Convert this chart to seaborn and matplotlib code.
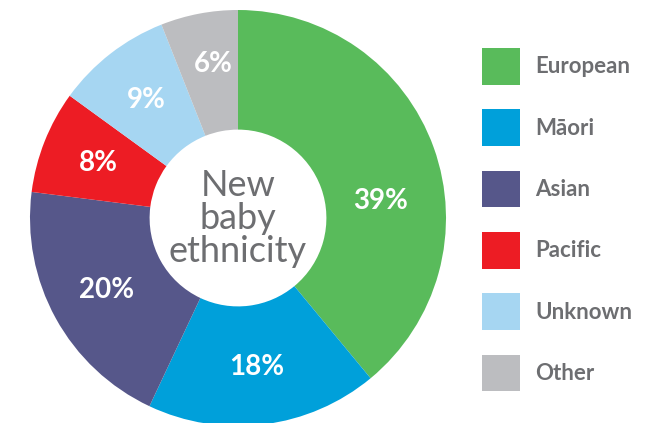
import matplotlib
matplotlib.use("Agg")
import matplotlib.pyplot as plt
import seaborn as sns
import numpy as np

categories = ["European", "Māori", "Asian", "Pacific", "Unknown", "Other"]
values = [39, 18, 20, 8, 9, 6]
colors = ["#59BB5B", "#00A0DA", "#56578A", "#ED1C24", "#A6D6F2", "#BCBDC0"]
center_title = "New\nbaby\nethnicity"

sns.set_theme(style="white")
plt.rcParams["font.family"] = ["Lato", "DejaVu Sans"]

W, H = 666, 423
fig = plt.figure(figsize=(W / 100, H / 100), dpi=100)
fig.patch.set_facecolor("white")

cx, cy, R = 238, 423 - 218, 208
ax = fig.add_axes([(cx - R) / W, (cy - R) / H, 2 * R / W, 2 * R / H])
palette = sns.color_palette(colors)

wedges, texts, autotexts = ax.pie(
    values,
    colors=palette,
    startangle=90,
    counterclock=False,
    radius=1.0,
    wedgeprops=dict(width=0.575, edgecolor="none", linewidth=0),
    autopct=lambda p: f"{p:.0f}%",
    pctdistance=0.72,
    textprops=dict(color="white", fontsize=20, fontweight="bold"),
)
# The European label sits lower than its wedge's mid-angle in the original
ang = np.deg2rad(6.8)
autotexts[0].set_position((0.69 * np.cos(ang), 0.69 * np.sin(ang)))
ang = np.deg2rad(99)
autotexts[5].set_position((0.75 * np.cos(ang), 0.75 * np.sin(ang)))

ax.text(0, 0.0, center_title, ha="center", va="center", fontsize=26,
        color="#6D6E71", fontweight="normal", linespacing=1.0)
ax.set_xlim(-1, 1)
ax.set_ylim(-1, 1)
ax.set_aspect("equal")
ax.axis("off")

fs = 16
fpx = fs * 100 / 72
leg = fig.legend(
    wedges, categories,
    loc="upper left",
    bbox_to_anchor=(482 / W, 1 - 48 / H),
    frameon=False,
    fontsize=fs,
    handlelength=38 / fpx,
    handleheight=38 / fpx * 1.27,
    handletextpad=15 / fpx,
    labelspacing=(62.5 - 38) / fpx,
    borderpad=0,
    borderaxespad=0,
)
for t in leg.get_texts():
    t.set_color("#6D6E71")
    t.set_fontweight("bold")

fig.savefig("out.png", dpi=100, facecolor="white")
